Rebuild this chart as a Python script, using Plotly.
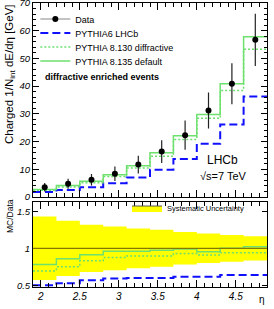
import plotly.graph_objects as go

# ---------------- data ----------------
eta_edges = [1.9, 2.2, 2.5, 2.8, 3.1, 3.4, 3.7, 4.0, 4.3, 4.6, 4.9]
eta_centers = [2.05, 2.35, 2.65, 2.95, 3.25, 3.55, 3.85, 4.15, 4.45, 4.75]

data_vals = [3.5, 4.8, 6.2, 8.4, 11.7, 16.4, 22.3, 31.2, 40.9, 56.7]
data_err = [1.5, 1.8, 2.1, 2.6, 3.2, 4.1, 5.3, 6.5, 7.4, 9.4]

pythia6_lhcb = [1.75, 2.54, 3.53, 4.96, 7.02, 9.84, 13.71, 19.19, 26.18, 36.29]
pythia8_130_diff = [2.43, 3.60, 5.15, 7.35, 10.47, 14.68, 20.74, 28.39, 38.45, 53.3]
pythia8_135_def = [2.73, 4.13, 5.67, 8.06, 11.23, 15.99, 22.08, 29.80, 40.9, 57.83]

syst_rel = [0.43, 0.375, 0.32, 0.295, 0.27, 0.25, 0.22, 0.20, 0.18, 0.163]

# ---------------- helpers ----------------
def step(vals):
    return list(vals) + [vals[-1]]

def ratio(mc):
    return [m / d for m, d in zip(mc, data_vals)]

FONT = "Liberation Sans, Arial, sans-serif"
BLUE = "#1010ff"
GREEN = "#6ee06e"

series = [
    ("PYTHIA6 LHCb", pythia6_lhcb, dict(color=BLUE, width=2, dash="8px,4px"), "legend2"),
    ("PYTHIA 8.130 diffractive", pythia8_130_diff, dict(color=GREEN, width=1.5, dash="2px,2px"), "legend3"),
    ("PYTHIA 8.135 default", pythia8_135_def, dict(color=GREEN, width=1.5), "legend4"),
]

fig = go.Figure()

# ---- lower panel: systematic band ----
band_lo = [1 - s for s in syst_rel]
band_hi = [1 + s for s in syst_rel]
fig.add_trace(go.Scatter(x=eta_edges, y=step(band_lo), mode="lines",
                         line=dict(width=0, shape="hv"), showlegend=False,
                         xaxis="x2", yaxis="y2", hoverinfo="skip"))
fig.add_trace(go.Scatter(x=eta_edges, y=step(band_hi), mode="lines",
                         line=dict(width=0, shape="hv"), fill="tonexty",
                         fillcolor="#ffff00", showlegend=False,
                         xaxis="x2", yaxis="y2", hoverinfo="skip"))
# legend proxy for band
fig.add_trace(go.Scatter(x=[None], y=[None], mode="lines", fill="toself",
                         fillcolor="#ffff00", line=dict(color="#555555", width=1),
                         name="Systematic Uncertainty", legend="legend5",
                         xaxis="x2", yaxis="y2"))

# ---- MC histograms (top) and ratios (bottom) ----
for name, vals, ln, lg in series:
    fig.add_trace(go.Scatter(x=eta_edges, y=step(vals), mode="lines",
                             line=dict(shape="hv", **ln), name=name,
                             legend=lg, xaxis="x", yaxis="y"))
    fig.add_trace(go.Scatter(x=eta_edges, y=step(ratio(vals)), mode="lines",
                             line=dict(shape="hv", **ln), showlegend=False,
                             xaxis="x2", yaxis="y2"))

# ---- data ----
fig.add_trace(go.Scatter(x=eta_centers, y=data_vals, mode="markers",
                         marker=dict(color="black", size=6),
                         error_y=dict(type="data", array=data_err, color="#222222",
                                      thickness=1.2, width=0),
                         showlegend=False, xaxis="x", yaxis="y"))
fig.add_trace(go.Scatter(x=[None], y=[None], mode="lines+markers",
                         marker=dict(color="black", size=6),
                         line=dict(color="#888888", width=1.2),
                         name="Data", legend="legend", xaxis="x", yaxis="y"))

# ---------------- axes ----------------
xcommon = dict(range=[1.9, 4.9], showline=True, linecolor="black", linewidth=1,
               mirror="allticks", ticks="inside", ticklen=7, tickcolor="black",
               tick0=2, dtick=0.5, showgrid=False, zeroline=False, automargin=False,
               minor=dict(ticks="inside", ticklen=4, dtick=0.1, tick0=2,
                          tickcolor="black", showgrid=False))

fig.update_layout(
    width=274, height=309,
    margin=dict(l=33, r=7, t=3, b=22, autoexpand=False),
    paper_bgcolor="white", plot_bgcolor="white",
    font=dict(family=FONT, color="black", size=9),
    xaxis=dict(domain=[0, 1], anchor="y", showticklabels=False, **xcommon),
    xaxis2=dict(domain=[0, 1], anchor="y2", showticklabels=True,
                tickfont=dict(size=10, style="italic"), **xcommon),
    yaxis=dict(domain=[0.317, 1], anchor="x", range=[0, 70], dtick=10, tick0=0,
               showline=True, linecolor="black", linewidth=1, mirror="allticks",
               ticks="inside", ticklen=6, tickcolor="black", showgrid=False,
               zeroline=False, automargin=False, ticklabeloverflow="allow",
               tickfont=dict(size=9.5, style="italic"),
               minor=dict(ticks="inside", ticklen=3, dtick=2, tick0=0,
                          tickcolor="black", showgrid=False)),
    yaxis2=dict(domain=[0, 0.299], anchor="x2", range=[0.477, 1.626],
                tickvals=[0.5, 1, 1.5], ticktext=["0.5", "1", "1.5"],
                showline=True, linecolor="black", linewidth=1, mirror="allticks",
                ticks="inside", ticklen=5, tickcolor="black", showgrid=False,
                zeroline=False, automargin=False, tickfont=dict(size=9.5, style="italic")),
    shapes=[dict(type="line", xref="x2 domain", x0=0, x1=1, yref="y2", y0=1, y1=1,
                 line=dict(color="#857700", width=1.2))],
)

leg_common = dict(bgcolor="rgba(0,0,0,0)", borderwidth=0, xanchor="left",
                  yanchor="middle", font=dict(family=FONT, size=9),
                  itemclick=False, itemdoubleclick=False)
row_y = [19, 33, 47, 61]
names = ["legend", "legend2", "legend3", "legend4"]
for lg, py in zip(names, row_y):
    fig.update_layout({lg: dict(x=0.01, y=(287 - py) / 284, **leg_common)})
fig.update_layout(legend5=dict(x=(127 - 33) / 234, y=(287 - 208) / 284,
                               **{**leg_common, "font": dict(family=FONT, size=7.5)}))

fig.add_annotation(text="<b>diffractive enriched events</b>", xref="paper", yref="paper",
                   x=(43 - 33) / 234, y=(287 - 77) / 284, xanchor="left", yanchor="middle",
                   showarrow=False, font=dict(size=9, family=FONT))
fig.add_annotation(text="LHCb", xref="paper", yref="paper",
                   x=(222 - 33) / 234, y=(287 - 160) / 284, xanchor="center", yanchor="middle",
                   showarrow=False, font=dict(size=12, family=FONT))
fig.add_annotation(text="√s=7 TeV", xref="paper", yref="paper",
                   x=(223 - 33) / 234, y=(287 - 176) / 284, xanchor="center", yanchor="middle",
                   showarrow=False, font=dict(size=11, family=FONT))
fig.add_annotation(text="Charged 1/N<sub>int</sub> dE/dη [GeV]", xref="paper", yref="paper",
                   x=(10 - 33) / 234, y=(287 - 74) / 284, xanchor="center", yanchor="middle",
                   textangle=-90, showarrow=False, font=dict(size=11.5, family=FONT))
fig.add_annotation(text="MC/Data", xref="paper", yref="paper",
                   x=(10 - 33) / 234, y=(287 - 216) / 284, xanchor="center", yanchor="middle",
                   textangle=-90, showarrow=False, font=dict(size=8.5, family=FONT))
fig.add_annotation(text="η", xref="paper", yref="paper",
                   x=(262 - 33) / 234, y=(287 - 299) / 284, xanchor="center", yanchor="middle",
                   showarrow=False, font=dict(size=10, family=FONT))

fig.write_html("out.html", config={"displayModeBar": False},
               post_script="document.body.style.margin='0';document.body.style.padding='0';")
